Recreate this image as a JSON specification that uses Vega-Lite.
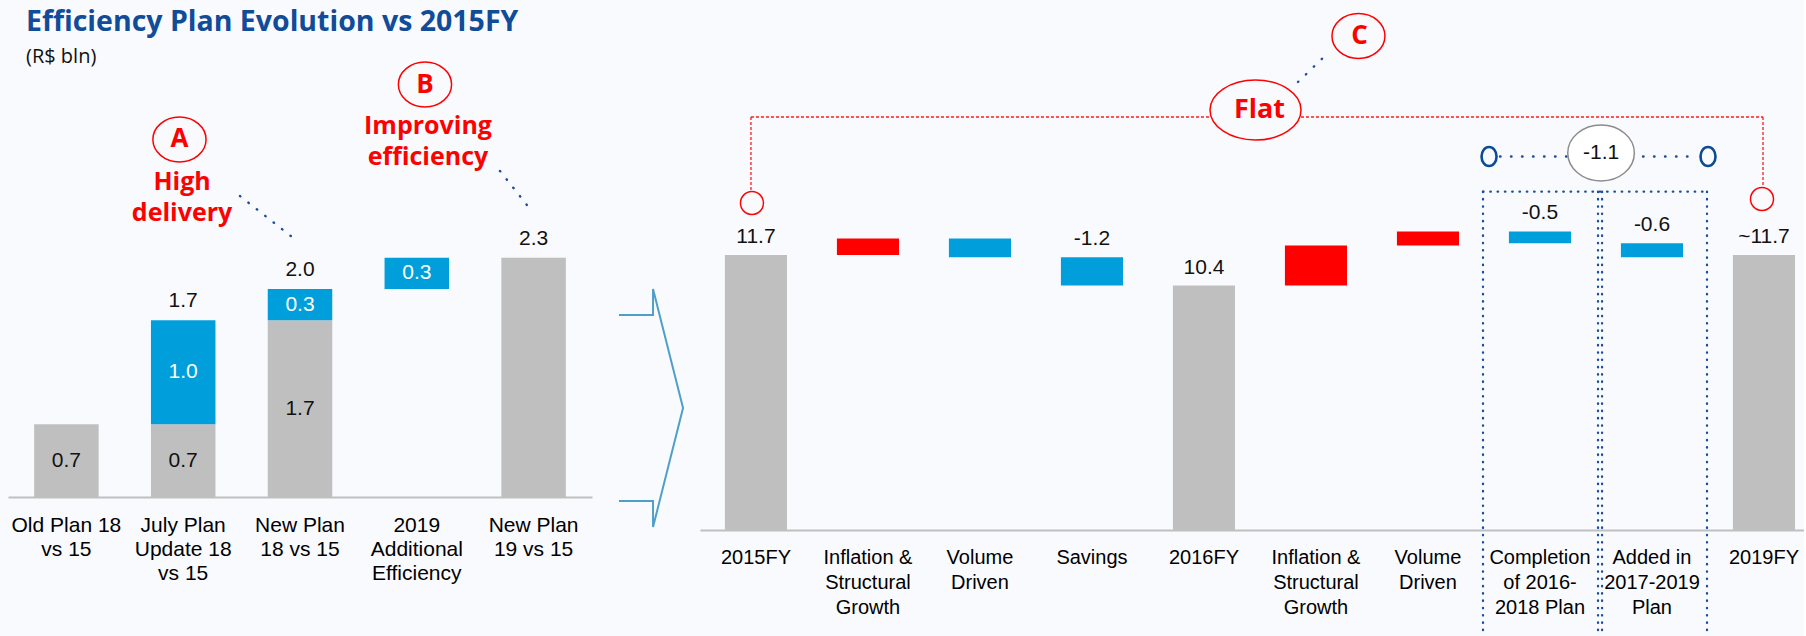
{
  "$schema": "https://vega.github.io/schema/vega-lite/v6.json",
  "background": "#f9fafe",
  "padding": {"left": 8, "top": 7, "right": 0, "bottom": 0},
  "config": {"view": {"stroke": null}, "axis": {"title": null}},
  "spacing": 108,
  "bounds": "flush",
  "datasets": {
    "leftBars": [
      {"cat": "Old Plan 18\nvs 15", "kind": "base", "start": 0, "end": 0.7, "label": "0.7"},
      {"cat": "July Plan\nUpdate 18\nvs 15", "kind": "base", "start": 0, "end": 0.7, "label": "0.7"},
      {"cat": "July Plan\nUpdate 18\nvs 15", "kind": "delta", "start": 0.7, "end": 1.7, "label": "1.0"},
      {"cat": "New Plan\n18 vs 15", "kind": "base", "start": 0, "end": 1.7, "label": "1.7"},
      {"cat": "New Plan\n18 vs 15", "kind": "delta", "start": 1.7, "end": 2.0, "label": "0.3"},
      {"cat": "2019\nAdditional\nEfficiency", "kind": "delta", "start": 2.0, "end": 2.3, "label": "0.3"},
      {"cat": "New Plan\n19 vs 15", "kind": "base", "start": 0, "end": 2.3, "label": ""}
    ],
    "leftTotals": [
      {"cat": "July Plan\nUpdate 18\nvs 15", "total": 1.7, "label": "1.7"},
      {"cat": "New Plan\n18 vs 15", "total": 2.0, "label": "2.0"},
      {"cat": "New Plan\n19 vs 15", "total": 2.3, "label": "2.3"}
    ],
    "leftBadges": [
      {"x": 1.468, "y": 3.438, "letter": "A"},
      {"x": 3.570, "y": 3.966, "letter": "B"}
    ],
    "leftNotes": [
      {"x": 1.490, "y": 3.025, "note": "High\ndelivery"},
      {"x": 3.596, "y": 3.572, "note": "Improving\nefficiency"}
    ],
    "leftLinks": [
      {"x1": 1.986, "y1": 2.894, "x2": 2.432, "y2": 2.5},
      {"x1": 4.212, "y1": 3.135, "x2": 4.443, "y2": 2.808}
    ],
    "rightBars": [
      {"cat": "2015FY", "kind": "total", "start": 0, "end": 11.7, "label": "11.7"},
      {"cat": "Inflation &\nStructural\nGrowth", "kind": "increase", "start": 11.7, "end": 12.4, "label": ""},
      {"cat": "Volume\nDriven", "kind": "decrease", "start": 12.4, "end": 11.6, "label": ""},
      {"cat": "Savings", "kind": "decrease", "start": 11.6, "end": 10.4, "label": "-1.2"},
      {"cat": "2016FY", "kind": "total", "start": 0, "end": 10.4, "label": "10.4"},
      {"cat": "Inflation &\nStructural\nGrowth\n", "kind": "increase", "start": 10.4, "end": 12.1, "label": ""},
      {"cat": "Volume\nDriven\n", "kind": "increase", "start": 12.1, "end": 12.7, "label": ""},
      {"cat": "Completion\nof 2016-\n2018 Plan", "kind": "decrease", "start": 12.7, "end": 12.2, "label": "-0.5"},
      {"cat": "Added in\n2017-2019\nPlan", "kind": "decrease", "start": 12.2, "end": 11.6, "label": "-0.6"},
      {"cat": "2019FY", "kind": "total", "start": 0, "end": 11.7, "label": "~11.7"}
    ],
    "rightBox": [
      {"x1": 6.991, "y1": 14.391, "x2": 8.991, "y2": 14.391},
      {"x1": 6.991, "y1": 14.391, "x2": 6.991, "y2": -4.45},
      {"x1": 8.018, "y1": 14.391, "x2": 8.018, "y2": -4.45},
      {"x1": 8.054, "y1": 14.391, "x2": 8.054, "y2": -4.45},
      {"x1": 8.991, "y1": 14.391, "x2": 8.991, "y2": -4.45}
    ],
    "rightBracket": [
      {"x1": 0.455, "y1": 17.569, "x2": 9.491, "y2": 17.569},
      {"x1": 0.455, "y1": 17.569, "x2": 0.455, "y2": 14.40},
      {"x1": 9.491, "y1": 17.569, "x2": 9.491, "y2": 14.57}
    ],
    "rightMarkers": [
      {"x": 0.464, "y": 13.910},
      {"x": 9.482, "y": 14.080}
    ],
    "rightLinks": [
      {"x1": 5.339, "y1": 19.057, "x2": 5.616, "y2": 20.333},
      {"x1": 7.143, "y1": 15.89, "x2": 8.902, "y2": 15.89}
    ],
    "rightFlat": [{"x": 4.96, "y": 17.866, "note": "Flat"}],
    "rightC": [{"x": 5.879, "y": 21.014, "letter": "C"}],
    "rightSum": [{"x": 8.045, "y": 16.037, "label": "-1.1"}],
    "rightOs": [{"x": 7.045, "y": 15.888}, {"x": 9.0, "y": 15.888}],
    "chevron": [{"x": -0.4375, "y": 5.19}]
  },
  "hconcat": [
    {
      "width": 584,
      "height": 416,
      "title": {
        "text": "Efficiency Plan Evolution vs 2015FY",
        "subtitle": "(R$ bln)",
        "anchor": "start",
        "frame": "group",
        "orient": "top",
        "offset": -8,
        "dx": 18,
        "font": "Open Sans",
        "fontSize": 28.5,
        "fontWeight": "bold",
        "color": "#114c99",
        "subtitleFont": "Open Sans",
        "subtitleFontSize": 20,
        "subtitleColor": "#111111",
        "subtitlePadding": 11
      },
      "resolve": {"scale": {"x": "independent"}},
      "layer": [
        {
          "data": {"name": "leftBars"},
          "encoding": {
            "x": {
              "field": "cat", "type": "nominal", "sort": null,
              "scale": {"domain": ["Old Plan 18\nvs 15", "July Plan\nUpdate 18\nvs 15", "New Plan\n18 vs 15", "2019\nAdditional\nEfficiency", "New Plan\n19 vs 15"], "paddingInner": 0.4478, "paddingOuter": 0.2239, "round": false},
              "axis": {"labelExpr": "split(datum.value, '\\n')", "labelAngle": 0, "labelFont": "Liberation Sans", "labelFontSize": 21, "labelColor": "#000000", "labelLineHeight": 24, "labelPadding": 17, "ticks": false, "tickSize": 0, "domainColor": "#bfbfbf", "domainWidth": 2, "labelOverlap": false, "labelLimit": 0, "labelBound": false, "title": null}
            }
          },
          "layer": [
            {
              "mark": {"type": "bar"},
              "encoding": {
                "y": {"field": "start", "type": "quantitative", "scale": {"domain": [0, 4], "nice": false, "zero": false}, "axis": null},
                "y2": {"field": "end"},
                "color": {"field": "kind", "type": "nominal", "legend": null, "scale": {"domain": ["base", "delta", "total", "increase", "decrease"], "range": ["#bfbfbf", "#009fdb", "#bfbfbf", "#ff0000", "#009fdb"]}}
              }
            },
            {
              "transform": [{"filter": "datum.kind == 'base' && datum.label != ''"}, {"calculate": "(datum.start + datum.end) / 2", "as": "mid"}],
              "mark": {"type": "text", "font": "Liberation Sans", "fontSize": 21, "color": "#111111", "baseline": "middle"},
              "encoding": {
                "y": {"field": "mid", "type": "quantitative", "scale": {"domain": [0, 4], "nice": false, "zero": false}, "axis": null},
                "text": {"field": "label"}
              }
            },
            {
              "transform": [{"filter": "datum.kind == 'delta'"}, {"calculate": "(datum.start + datum.end) / 2", "as": "mid"}],
              "mark": {"type": "text", "font": "Liberation Sans", "fontSize": 21, "color": "#ffffff", "baseline": "middle"},
              "encoding": {
                "y": {"field": "mid", "type": "quantitative", "scale": {"domain": [0, 4], "nice": false, "zero": false}, "axis": null},
                "text": {"field": "label"}
              }
            },
            {
              "data": {"name": "leftTotals"},
              "mark": {"type": "text", "font": "Liberation Sans", "fontSize": 21, "color": "#111111", "baseline": "middle", "dy": -19},
              "encoding": {
                "y": {"field": "total", "type": "quantitative", "scale": {"domain": [0, 4], "nice": false, "zero": false}, "axis": null},
                "text": {"field": "label"}
              }
            }
          ]
        },
        {
          "layer": [
            {
              "data": {"name": "leftLinks"},
              "mark": {"type": "rule", "color": "#1b4f9a", "strokeWidth": 2.4, "strokeDash": [0.5, 10.2], "strokeCap": "round"},
              "encoding": {
                "x": {"field": "x1", "type": "quantitative", "scale": {"domain": [0, 5], "nice": false, "zero": false}, "axis": null},
                "x2": {"field": "x2"},
                "y": {"field": "y1", "type": "quantitative", "scale": {"domain": [0, 4], "nice": false, "zero": false}, "axis": null},
                "y2": {"field": "y2"}
              }
            },
            {
              "data": {"name": "leftBadges"},
              "mark": {"type": "point", "shape": "M-1,0A1,0.845,0,1,0,1,0A1,0.845,0,1,0,-1,0Z", "size": 2830, "filled": true, "fill": "#f9fafe", "stroke": "#ff0000", "strokeWidth": 1.5, "opacity": 1},
              "encoding": {
                "x": {"field": "x", "type": "quantitative", "scale": {"domain": [0, 5], "nice": false, "zero": false}, "axis": null},
                "y": {"field": "y", "type": "quantitative", "scale": {"domain": [0, 4], "nice": false, "zero": false}, "axis": null}
              }
            },
            {
              "data": {"name": "leftBadges"},
              "mark": {"type": "text", "font": "Open Sans", "fontSize": 26, "fontWeight": "bold", "color": "#ff0000", "baseline": "middle"},
              "encoding": {
                "x": {"field": "x", "type": "quantitative", "scale": {"domain": [0, 5], "nice": false, "zero": false}, "axis": null},
                "y": {"field": "y", "type": "quantitative", "scale": {"domain": [0, 4], "nice": false, "zero": false}, "axis": null},
                "text": {"field": "letter"}
              }
            },
            {
              "data": {"name": "leftNotes"},
              "mark": {"type": "text", "font": "Open Sans", "fontSize": 25, "fontWeight": "bold", "color": "#ff0000", "baseline": "middle", "lineBreak": "\n", "lineHeight": 31},
              "encoding": {
                "x": {"field": "x", "type": "quantitative", "scale": {"domain": [0, 5], "nice": false, "zero": false}, "axis": null},
                "y": {"field": "y", "type": "quantitative", "scale": {"domain": [0, 4], "nice": false, "zero": false}, "axis": null},
                "text": {"field": "note"}
              }
            }
          ]
        }
      ]
    },
    {
      "width": 1104,
      "height": 449,
      "resolve": {"scale": {"x": "independent"}},
      "layer": [
        {
          "data": {"name": "rightBars"},
          "encoding": {
            "x": {
              "field": "cat", "type": "nominal", "sort": null,
              "scale": {"domain": ["2015FY", "Inflation &\nStructural\nGrowth", "Volume\nDriven", "Savings", "2016FY", "Inflation &\nStructural\nGrowth\n", "Volume\nDriven\n", "Completion\nof 2016-\n2018 Plan", "Added in\n2017-2019\nPlan", "2019FY"], "paddingInner": 0.4456, "paddingOuter": 0.1513, "align": 0.735, "round": false},
              "axis": {"labelExpr": "split(datum.value, '\\n')", "labelAngle": 0, "labelFont": "Liberation Sans", "labelFontSize": 20, "labelColor": "#000000", "labelLineHeight": 25, "labelPadding": 17, "ticks": false, "tickSize": 0, "domainColor": "#bfbfbf", "domainWidth": 2, "labelOverlap": false, "labelLimit": 0, "labelBound": false, "title": null}
            }
          },
          "layer": [
            {
              "mark": {"type": "bar"},
              "encoding": {
                "y": {"field": "start", "type": "quantitative", "scale": {"domain": [0, 19.1], "nice": false, "zero": false}, "axis": null},
                "y2": {"field": "end"},
                "color": {"field": "kind", "type": "nominal", "legend": null, "scale": {"domain": ["base", "delta", "total", "increase", "decrease"], "range": ["#bfbfbf", "#009fdb", "#bfbfbf", "#ff0000", "#009fdb"]}}
              }
            },
            {
              "transform": [{"filter": "datum.label != ''"}, {"calculate": "max(datum.start, datum.end)", "as": "top"}],
              "mark": {"type": "text", "font": "Liberation Sans", "fontSize": 21, "color": "#111111", "baseline": "middle", "dy": -18},
              "encoding": {
                "y": {"field": "top", "type": "quantitative", "scale": {"domain": [0, 19.1], "nice": false, "zero": false}, "axis": null},
                "text": {"field": "label"}
              }
            }
          ]
        },
        {
          "layer": [
            {
              "data": {"name": "chevron"},
              "mark": {"type": "point", "shape": "M-0.267,-0.775L0.017,-0.775L0.017,-0.992L0.267,0L0.017,0.992L0.017,0.775L-0.267,0.775", "size": 57600, "filled": false, "stroke": "#4f9fca", "strokeWidth": 2, "opacity": 1},
              "encoding": {
                "x": {"field": "x", "type": "quantitative", "scale": {"domain": [0, 9.857], "nice": false, "zero": false}, "axis": null},
                "y": {"field": "y", "type": "quantitative", "scale": {"domain": [0, 19.1], "nice": false, "zero": false}, "axis": null}
              }
            },
            {
              "data": {"name": "rightBox"},
              "mark": {"type": "rule", "color": "#1b4f9a", "strokeWidth": 2.3, "strokeDash": [0.5, 6.8], "strokeCap": "round"},
              "encoding": {
                "x": {"field": "x1", "type": "quantitative", "scale": {"domain": [0, 9.857], "nice": false, "zero": false}, "axis": null},
                "x2": {"field": "x2"},
                "y": {"field": "y1", "type": "quantitative", "scale": {"domain": [0, 19.1], "nice": false, "zero": false}, "axis": null},
                "y2": {"field": "y2"}
              }
            },
            {
              "data": {"name": "rightBracket"},
              "mark": {"type": "rule", "color": "#ff1a1a", "strokeWidth": 1.3, "strokeDash": [3, 2]},
              "encoding": {
                "x": {"field": "x1", "type": "quantitative", "scale": {"domain": [0, 9.857], "nice": false, "zero": false}, "axis": null},
                "x2": {"field": "x2"},
                "y": {"field": "y1", "type": "quantitative", "scale": {"domain": [0, 19.1], "nice": false, "zero": false}, "axis": null},
                "y2": {"field": "y2"}
              }
            },
            {
              "data": {"name": "rightMarkers"},
              "mark": {"type": "point", "shape": "circle", "size": 529, "filled": false, "stroke": "#ff0000", "strokeWidth": 1.5, "opacity": 1},
              "encoding": {
                "x": {"field": "x", "type": "quantitative", "scale": {"domain": [0, 9.857], "nice": false, "zero": false}, "axis": null},
                "y": {"field": "y", "type": "quantitative", "scale": {"domain": [0, 19.1], "nice": false, "zero": false}, "axis": null}
              }
            },
            {
              "data": {"name": "rightLinks"},
              "mark": {"type": "rule", "color": "#1b4f9a", "strokeWidth": 2.4, "strokeDash": [0.5, 10.5], "strokeCap": "round"},
              "encoding": {
                "x": {"field": "x1", "type": "quantitative", "scale": {"domain": [0, 9.857], "nice": false, "zero": false}, "axis": null},
                "x2": {"field": "x2"},
                "y": {"field": "y1", "type": "quantitative", "scale": {"domain": [0, 19.1], "nice": false, "zero": false}, "axis": null},
                "y2": {"field": "y2"}
              }
            },
            {
              "data": {"name": "rightFlat"},
              "mark": {"type": "point", "shape": "M-1,0A1,0.66,0,1,0,1,0A1,0.66,0,1,0,-1,0Z", "size": 8281, "filled": true, "fill": "#f9fafe", "stroke": "#ff0000", "strokeWidth": 1.5, "opacity": 1},
              "encoding": {
                "x": {"field": "x", "type": "quantitative", "scale": {"domain": [0, 9.857], "nice": false, "zero": false}, "axis": null},
                "y": {"field": "y", "type": "quantitative", "scale": {"domain": [0, 19.1], "nice": false, "zero": false}, "axis": null}
              }
            },
            {
              "data": {"name": "rightFlat"},
              "mark": {"type": "text", "font": "Open Sans", "fontSize": 27, "fontWeight": "bold", "color": "#ff0000", "baseline": "middle", "dx": 4},
              "encoding": {
                "x": {"field": "x", "type": "quantitative", "scale": {"domain": [0, 9.857], "nice": false, "zero": false}, "axis": null},
                "y": {"field": "y", "type": "quantitative", "scale": {"domain": [0, 19.1], "nice": false, "zero": false}, "axis": null},
                "text": {"field": "note"}
              }
            },
            {
              "data": {"name": "rightC"},
              "mark": {"type": "point", "shape": "M-1,0A1,0.85,0,1,0,1,0A1,0.85,0,1,0,-1,0Z", "size": 2809, "filled": true, "fill": "#f9fafe", "stroke": "#ff0000", "strokeWidth": 1.5, "opacity": 1},
              "encoding": {
                "x": {"field": "x", "type": "quantitative", "scale": {"domain": [0, 9.857], "nice": false, "zero": false}, "axis": null},
                "y": {"field": "y", "type": "quantitative", "scale": {"domain": [0, 19.1], "nice": false, "zero": false}, "axis": null}
              }
            },
            {
              "data": {"name": "rightC"},
              "mark": {"type": "text", "font": "Open Sans", "fontSize": 26, "fontWeight": "bold", "color": "#ff0000", "baseline": "middle", "dx": 1},
              "encoding": {
                "x": {"field": "x", "type": "quantitative", "scale": {"domain": [0, 9.857], "nice": false, "zero": false}, "axis": null},
                "y": {"field": "y", "type": "quantitative", "scale": {"domain": [0, 19.1], "nice": false, "zero": false}, "axis": null},
                "text": {"field": "letter"}
              }
            },
            {
              "data": {"name": "rightOs"},
              "mark": {"type": "point", "shape": "M-0.79,0A0.79,1,0,1,0,0.79,0A0.79,1,0,1,0,-0.79,0Z", "size": 361, "filled": false, "stroke": "#0b4a97", "strokeWidth": 2.6, "opacity": 1},
              "encoding": {
                "x": {"field": "x", "type": "quantitative", "scale": {"domain": [0, 9.857], "nice": false, "zero": false}, "axis": null},
                "y": {"field": "y", "type": "quantitative", "scale": {"domain": [0, 19.1], "nice": false, "zero": false}, "axis": null}
              }
            },
            {
              "data": {"name": "rightSum"},
              "mark": {"type": "point", "shape": "M-1,0A1,0.84,0,1,0,1,0A1,0.84,0,1,0,-1,0Z", "size": 4436, "filled": true, "fill": "#ffffff", "stroke": "#8c8c8c", "strokeWidth": 1.5, "opacity": 1},
              "encoding": {
                "x": {"field": "x", "type": "quantitative", "scale": {"domain": [0, 9.857], "nice": false, "zero": false}, "axis": null},
                "y": {"field": "y", "type": "quantitative", "scale": {"domain": [0, 19.1], "nice": false, "zero": false}, "axis": null}
              }
            },
            {
              "data": {"name": "rightSum"},
              "mark": {"type": "text", "font": "Liberation Sans", "fontSize": 21, "color": "#111111", "baseline": "middle"},
              "encoding": {
                "x": {"field": "x", "type": "quantitative", "scale": {"domain": [0, 9.857], "nice": false, "zero": false}, "axis": null},
                "y": {"field": "y", "type": "quantitative", "scale": {"domain": [0, 19.1], "nice": false, "zero": false}, "axis": null},
                "text": {"field": "label"}
              }
            }
          ]
        }
      ]
    }
  ]
}
